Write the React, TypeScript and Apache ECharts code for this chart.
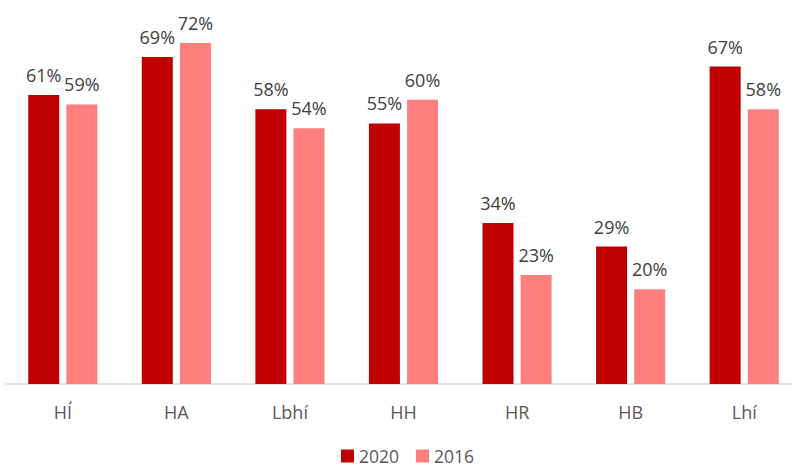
import React, { useEffect, useRef } from "react";
import * as echarts from "echarts";

const categories = ["HÍ", "HA", "Lbhí", "HH", "HR", "HB", "Lhí"];
const values2020 = [61, 69, 58, 55, 34, 29, 67];
const values2016 = [59, 72, 54, 60, 23, 20, 58];
const seriesNames = ["2020", "2016"];

export default function App() {
  const ref = useRef<HTMLDivElement>(null);
  useEffect(() => {
    if (!ref.current) return;
    const chart = echarts.init(ref.current, null, { renderer: "svg" });
    const font = "'Open Sans', 'Noto Sans', sans-serif";
    const label = {
      show: true,
      position: "top",
      distance: 11,
      formatter: "{c}%",
      color: "#404040",
      fontSize: 18,
      fontFamily: font,
    };
    chart.setOption({
      animation: false,
      grid: { left: 6, width: 795, top: 5, height: 379, containLabel: false },
      legend: {
        data: seriesNames,
        top: 442,
        left: 336,
        itemWidth: 13,
        itemHeight: 13,
        itemGap: 17,
        icon: "rect",
        textStyle: { color: "#595959", fontSize: 17.5, lineHeight: 16, fontFamily: font },
      },
      xAxis: {
        type: "category",
        data: categories,
        axisLine: { show: true, lineStyle: { color: "#d9d9d9", width: 1.5 } },
        axisTick: { show: false },
        axisLabel: { color: "#595959", fontSize: 18, fontFamily: font, margin: 19 },
      },
      yAxis: {
        type: "value",
        min: 0,
        max: 80,
        show: false,
        splitLine: { show: false },
      },
      series: [
        {
          name: seriesNames[0],
          type: "bar",
          data: values2020,
          barWidth: 31,
          barGap: "23%",
          itemStyle: { color: "#C00000" },
          label,
        },
        {
          name: seriesNames[1],
          type: "bar",
          data: values2016,
          barWidth: 31,
          itemStyle: { color: "#FF7F7F" },
          label,
        },
      ],
    });
    return () => chart.dispose();
  }, []);
  return (
    <div
      style={{
        position: "fixed",
        left: 0,
        top: 0,
        width: 792,
        height: 468,
        overflow: "hidden",
        background: "#fff",
      }}
    >
      <div ref={ref} style={{ width: 810, height: 468 }} />
    </div>
  );
}
